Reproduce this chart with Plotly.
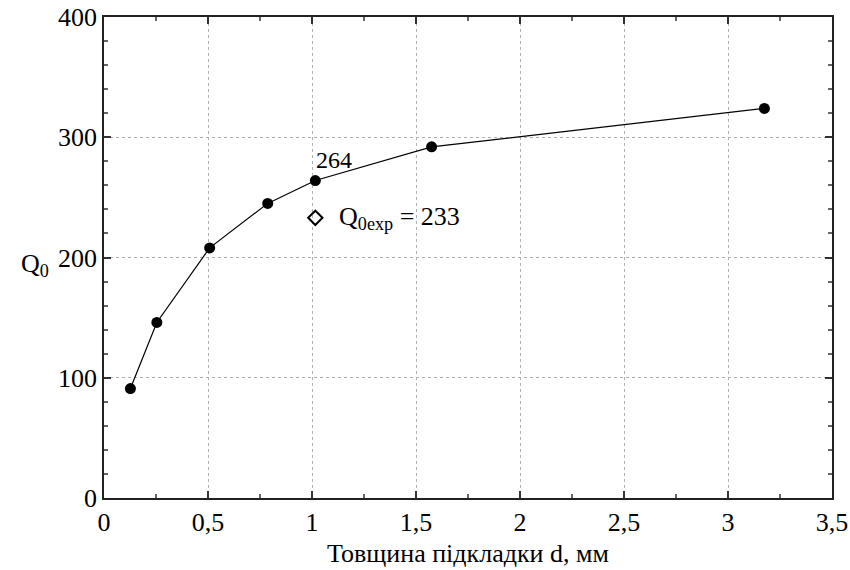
import plotly.graph_objects as go

# Substrate thickness d (mm) and calculated quality factor Q0
thickness = [0.127, 0.254, 0.508, 0.787, 1.016, 1.575, 3.175]
q0 = [91, 146, 208, 245, 264, 292, 324]

# Experimental point
exp_d = [1.016]
exp_q = [233]

x_ticks = [0, 0.5, 1, 1.5, 2, 2.5, 3, 3.5]
x_labels = ["0", "0,5", "1", "1,5", "2", "2,5", "3", "3,5"]
y_ticks = [0, 100, 200, 300, 400]
y_labels = ["0", "100", "200", "300", "400"]

FONT = "Liberation Serif, Times New Roman, serif"

fig = go.Figure()
fig.add_trace(go.Scatter(
    x=thickness, y=q0, mode="lines+markers",
    line=dict(color="black", width=1.2),
    marker=dict(symbol="circle", size=11, color="black"),
    showlegend=False, hoverinfo="x+y",
))
fig.add_trace(go.Scatter(
    x=exp_d, y=exp_q, mode="markers",
    marker=dict(symbol="diamond-open", size=11, color="black", line=dict(width=2)),
    showlegend=False, hoverinfo="x+y",
))

fig.add_annotation(x=thickness[4], y=q0[4], text=str(q0[4]),
                   xanchor="left", yanchor="bottom", xshift=-1, yshift=6,
                   showarrow=False, font=dict(family=FONT, size=24, color="black"))
fig.add_annotation(x=exp_d[0], y=exp_q[0],
                   text="Q<sub>0exp</sub> = " + str(exp_q[0]),
                   xanchor="left", yanchor="middle", xshift=22, yshift=0,
                   showarrow=False, font=dict(family=FONT, size=26, color="black"))
fig.add_annotation(x=-0.095, y=0.485, xref="paper", yref="paper",
                   text="Q<sub>0</sub>", xanchor="center", yanchor="middle",
                   showarrow=False, font=dict(family=FONT, size=26, color="black"))

axis_common = dict(
    showline=True, linecolor="#222", linewidth=1.5, mirror="ticks",
    ticks="inside", ticklen=7, tickwidth=1.5, tickcolor="#333",
    showgrid=True, gridcolor="#b0b0b0", gridwidth=1, griddash="dot",
    zeroline=False, automargin=False,
    tickfont=dict(family=FONT, size=26, color="black"),
)

fig.update_xaxes(
    range=[0, 3.5], tickvals=x_ticks, ticktext=x_labels,
    minor=dict(dtick=0.25, ticks="inside", ticklen=4, tickcolor="#666", showgrid=False),
    title=dict(text="Товщина підкладки d, мм", font=dict(family=FONT, size=26, color="black"), standoff=8),
    **axis_common,
)
fig.update_yaxes(
    range=[0, 400], tickvals=y_ticks, ticktext=y_labels,
    minor=dict(dtick=20, ticks="inside", ticklen=4, tickcolor="#666", showgrid=False),
    **axis_common,
)

fig.update_layout(
    width=850, height=570,
    margin=dict(l=104, r=18, t=17, b=72),
    plot_bgcolor="white", paper_bgcolor="white",
    font=dict(family=FONT, color="black"),
)

fig.write_html("out.html")
